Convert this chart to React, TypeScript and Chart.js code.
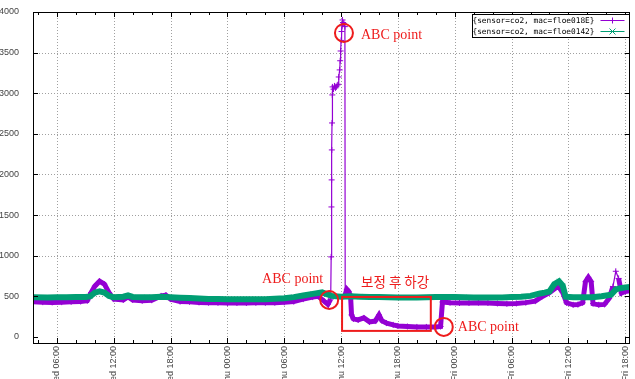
import { useEffect, useRef } from "react";
import { Chart, registerables } from "chart.js";

Chart.register(...registerables);

// ---------- data ----------
const seriesLabels = ["{sensor=co2, mac=floe018E}", "{sensor=co2, mac=floe0142}"];

const purpleHours = [
  3.5, 4.5, 5.5, 6.5, 7.5, 8.5, 9.2, 9.6, 10.0, 10.5, 11.0, 11.5, 12.0, 13.0, 13.5, 14.0, 15, 16, 17, 17.5, 18,
  19, 20, 21, 22, 23, 24, 25, 26, 27, 28, 29, 30, 31, 32, 33, 33.6, 34.2, 34.6, 34.9,
  34.95, 34.98, 35.0, 35.02, 35.04, 35.07, 35.1, 35.2, 35.3, 35.4, 35.5, 35.6, 35.7, 35.75, 35.85, 35.9, 35.95,
  36.0, 36.05, 36.1, 36.15, 36.2, 36.3, 36.4, 36.43, 36.6, 36.8, 37.0, 37.1, 37.3, 37.8, 38.4, 39.0, 39.6,
  40.0, 40.3, 40.8, 41.5, 42, 43, 44, 45, 46, 46.5, 46.7, 47.5, 48.5, 49.5, 50.5, 51.5, 52.5, 53.5, 54.5,
  55.5, 56.5, 57.2, 58, 58.9, 59.4, 59.8, 60.5, 61, 61.5, 61.8, 62.1, 62.4, 62.6, 63.2, 63.8, 64.3, 64.7,
  65.0, 65.3, 65.6, 66.0, 66.5,
];
const purpleValues = [
  432, 428, 425, 428, 432, 436, 445, 545, 625, 685, 650, 545, 465, 455, 492, 455, 445, 452, 505, 515, 465,
  435, 432, 425, 422, 420, 418, 418, 418, 420, 420, 422, 426, 435, 465, 490, 500, 440, 400, 465,
  985, 1600, 1933, 2302, 2634, 2979, 3078, 3050, 3090, 3065, 3080, 3100, 3110, 3200, 3287, 3400, 3520,
  3650, 3760, 3830, 3902, 3870, 3860, 3820, 520, 586, 560, 500, 271, 222, 209, 234, 185, 195,
  271, 200, 170, 148, 135, 128, 123, 123, 123, 128, 430, 422, 418, 418, 422, 418, 412, 408, 412,
  422, 440, 495, 545, 625, 545, 420, 395, 398, 420, 680, 734, 680, 410, 395, 400, 475, 620,
  808, 720, 540, 560, 570,
];

const greenHours = [
  3.5, 5, 6, 7, 8, 9, 9.5, 10, 10.5, 11, 11.5, 12, 13, 13.5, 14, 15, 16, 17, 18, 19, 20, 21, 22, 23, 24,
  25, 26, 27, 28, 29, 30, 31, 32, 33, 34, 34.5, 35, 36, 37, 38, 39, 40, 41, 42, 43, 44, 45, 46, 47, 48,
  49, 50, 51, 52, 53, 54, 55, 56, 57, 57.5, 58, 58.5, 59, 59.4, 59.7, 60.5, 61.5, 62.5, 63.5, 64.5, 65,
  65.5, 66, 66.5,
];
const greenValues = [
  488, 485, 487, 488, 490, 492, 498, 545, 560, 545, 505, 488, 495, 510, 492, 488, 488, 495, 488, 482, 478,
  472, 468, 466, 465, 463, 463, 464, 465, 470, 475, 490, 510, 530, 548, 525, 505, 495, 500, 495, 492, 490,
  488, 486, 486, 486, 488, 490, 490, 490, 488, 486, 486, 486, 486, 490, 495, 505, 535, 545, 560, 650, 685,
  630, 495, 488, 488, 488, 500, 520, 585, 600, 610, 615,
];

const tickHours = [6, 12, 18, 24, 30, 36, 42, 48, 54, 60, 66];
const tickLabels = [
  "Wed 06:00", "Wed 12:00", "Wed 18:00", "Thu 00:00", "Thu 06:00", "Thu 12:00",
  "Thu 18:00", "Fri 00:00", "Fri 06:00", "Fri 12:00", "Fri 18:00",
];
const minorTickHours = [
  4, 6, 8, 10, 12, 14, 16, 18, 20, 22, 24, 26, 28, 30, 32, 34, 36, 38, 40, 42, 44, 46, 48, 50, 52, 54, 56,
  58, 60, 62, 64, 66,
];
const yTicks = [0, 500, 1000, 1500, 2000, 2500, 3000, 3500, 4000];
const xRange = [3.47, 66.5];
const yRange = [-75, 4000];

// annotations (data coordinates)
const abcLabel = "ABC point";
const abcPoints = [
  { h: 36.3, v: 3742, dx: 17, dy: 2, align: "left" },
  { h: 34.74, v: 455, dx: -6, dy: -21, align: "right" },
  { h: 46.84, v: 123, dx: 14, dy: 0, align: "left" },
];
const boxLabel = "보정 후 하강";
const boxRange = { h0: 36.1, h1: 45.47, v0: 74, v1: 492 };

const PURPLE = "#9400d3";
const GREEN = "#009e73";
const RED = "#ee1c1c";

const gnuplotPlugin = {
  id: "gnuplotDecor",
  beforeDatasetsDraw(chart: any) {
    const { ctx, chartArea: a, scales } = chart;
    const xs = scales.x;
    const ys = scales.y;
    ctx.save();
    ctx.strokeStyle = "#a0a0a0";
    ctx.lineWidth = 1;
    ctx.setLineDash([1, 2]);
    tickHours.forEach((h) => {
      const x = Math.round(xs.getPixelForValue(h)) + 0.5;
      ctx.beginPath();
      ctx.moveTo(x, a.top);
      ctx.lineTo(x, a.bottom);
      ctx.stroke();
    });
    yTicks.forEach((v) => {
      if (v === 0 || v === 4000) return;
      const y = Math.round(ys.getPixelForValue(v)) + 0.5;
      ctx.beginPath();
      ctx.moveTo(a.left, y);
      ctx.lineTo(a.right, y);
      ctx.stroke();
    });
    ctx.restore();
  },
  afterDatasetsDraw(chart: any) {
    const { ctx, chartArea: a, scales } = chart;
    const xs = scales.x;
    const ys = scales.y;
    ctx.save();
    // frame
    ctx.strokeStyle = "#000";
    ctx.lineWidth = 1;
    ctx.setLineDash([]);
    ctx.strokeRect(Math.round(a.left) + 0.5, Math.round(a.top) + 0.5, Math.round(a.right - a.left) - 1, Math.round(a.bottom - a.top));
    // x ticks, inward, bottom and top
    minorTickHours.forEach((h) => {
      const x = Math.round(xs.getPixelForValue(h)) + 0.5;
      const len = h % 6 === 0 ? 5 : 3;
      ctx.beginPath();
      ctx.moveTo(x, a.bottom);
      ctx.lineTo(x, a.bottom - len);
      ctx.moveTo(x, a.top);
      ctx.lineTo(x, a.top + len);
      ctx.stroke();
    });
    yTicks.forEach((v) => {
      const y = Math.round(ys.getPixelForValue(v)) + 0.5;
      ctx.beginPath();
      ctx.moveTo(a.left, y);
      ctx.lineTo(a.left + 5, y);
      ctx.moveTo(a.right, y);
      ctx.lineTo(a.right - 5, y);
      ctx.stroke();
    });

    // legend (gnuplot key)
    const boxRight = Math.round(a.right) - 0.5;
    const boxLeft = boxRight - 157;
    const boxTop = Math.round(a.top) + 2.5;
    const rowH = 11;
    ctx.fillStyle = "#fff";
    ctx.fillRect(boxLeft, boxTop, boxRight - boxLeft, rowH * 2 + 1);
    ctx.strokeStyle = "#000";
    ctx.strokeRect(boxLeft, boxTop, boxRight - boxLeft, rowH * 2 + 1);
    ctx.font = '7.8px "DejaVu Sans Mono"';
    ctx.textAlign = "right";
    ctx.textBaseline = "middle";
    chart.data.datasets.forEach((ds: any, i: number) => {
      const cy = boxTop + 6 + i * rowH;
      ctx.fillStyle = "#000";
      ctx.fillText(ds.label, boxRight - 35, cy);
      ctx.strokeStyle = ds.borderColor;
      ctx.lineWidth = 1;
      ctx.beginPath();
      ctx.moveTo(boxRight - 29, cy);
      ctx.lineTo(boxRight - 5, cy);
      const mx = boxRight - 17;
      if (ds.pointStyle === "cross") {
        ctx.moveTo(mx, cy - 3);
        ctx.lineTo(mx, cy + 3);
      } else {
        ctx.moveTo(mx - 3, cy - 3);
        ctx.lineTo(mx + 3, cy + 3);
        ctx.moveTo(mx + 3, cy - 3);
        ctx.lineTo(mx - 3, cy + 3);
      }
      ctx.stroke();
    });

    // annotations
    ctx.strokeStyle = RED;
    ctx.fillStyle = RED;
    ctx.lineWidth = 2;
    ctx.font = '14px "Liberation Serif"';
    ctx.textBaseline = "middle";
    abcPoints.forEach((p) => {
      const x = xs.getPixelForValue(p.h);
      const y = ys.getPixelForValue(p.v);
      ctx.beginPath();
      ctx.arc(x, y, 9, 0, Math.PI * 2);
      ctx.stroke();
      ctx.textAlign = p.align as CanvasTextAlign;
      ctx.fillText(abcLabel, x + p.dx, y + p.dy);
    });
    const rx0 = xs.getPixelForValue(boxRange.h0);
    const rx1 = xs.getPixelForValue(boxRange.h1);
    const ry0 = ys.getPixelForValue(boxRange.v1);
    const ry1 = ys.getPixelForValue(boxRange.v0);
    ctx.strokeRect(rx0, ry0, rx1 - rx0, ry1 - ry0);
    ctx.font = '13.5px "Noto Sans CJK KR"';
    ctx.textAlign = "left";
    ctx.fillText(boxLabel, rx0 + 19, ry0 - 15);
    ctx.restore();
  },
};

export default function App() {
  const ref = useRef<HTMLCanvasElement | null>(null);
  useEffect(() => {
    document.body.style.margin = "0";
    document.body.style.overflow = "hidden";
    const canvas = ref.current!;
    const chart = new Chart(canvas, {
      type: "line",
      data: {
        datasets: [
          {
            label: seriesLabels[0],
            data: purpleHours.map((h, i) => ({ x: h, y: purpleValues[i] })),
            borderColor: PURPLE,
            backgroundColor: PURPLE,
            borderWidth: 5,
            pointStyle: "cross",
            pointRadius: 3,
            pointBorderWidth: 1,
            pointBorderColor: PURPLE,
            tension: 0,
            order: 1,
            segment: {
              borderWidth: (c: any) => (Math.max(c.p0.parsed.y, c.p1.parsed.y) > 800 ? 1.2 : 5),
            },
          },
          {
            label: seriesLabels[1],
            data: greenHours.map((h, i) => ({ x: h, y: greenValues[i] })),
            borderColor: GREEN,
            backgroundColor: GREEN,
            borderWidth: 6,
            pointStyle: "crossRot",
            pointRadius: 3,
            pointBorderWidth: 1,
            pointBorderColor: GREEN,
            tension: 0,
            order: 0,
          },
        ],
      },
      options: {
        animation: false,
        responsive: false,
        devicePixelRatio: 1,
        layout: { padding: { top: 12, right: 3, left: 0, bottom: 0 } },
        plugins: { legend: { display: false }, tooltip: { enabled: false } },
        scales: {
          x: {
            type: "linear",
            min: xRange[0],
            max: xRange[1],
            grid: { display: false },
            border: { display: false },
            afterBuildTicks: (s: any) => {
              s.ticks = tickHours.map((h) => ({ value: h }));
            },
            afterFit: (s: any) => {
              s.height = 52;
            },
            ticks: {
              autoSkip: false,
              minRotation: 90,
              maxRotation: 90,
              padding: -5,
              color: "#444",
              font: { family: "Liberation Sans", size: 9 },
              callback: (_v: any, i: number) => tickLabels[i],
            },
          },
          y: {
            type: "linear",
            min: yRange[0],
            max: yRange[1],
            grid: { display: false },
            border: { display: false },
            afterBuildTicks: (s: any) => {
              s.ticks = yTicks.map((v) => ({ value: v }));
            },
            afterFit: (s: any) => {
              s.width = 33;
            },
            ticks: {
              padding: 6,
              color: "#444",
              font: { family: "Liberation Sans", size: 9 },
              callback: (v: any) => String(v),
            },
          },
        },
      },
      plugins: [gnuplotPlugin],
    } as any);
    return () => chart.destroy();
  }, []);
  return (
    <div style={{ width: 635, height: 379, overflow: "hidden", background: "#fff" }}>
      <canvas ref={ref} width={635} height={395} style={{ width: 635, height: 395, display: "block" }} />
    </div>
  );
}
